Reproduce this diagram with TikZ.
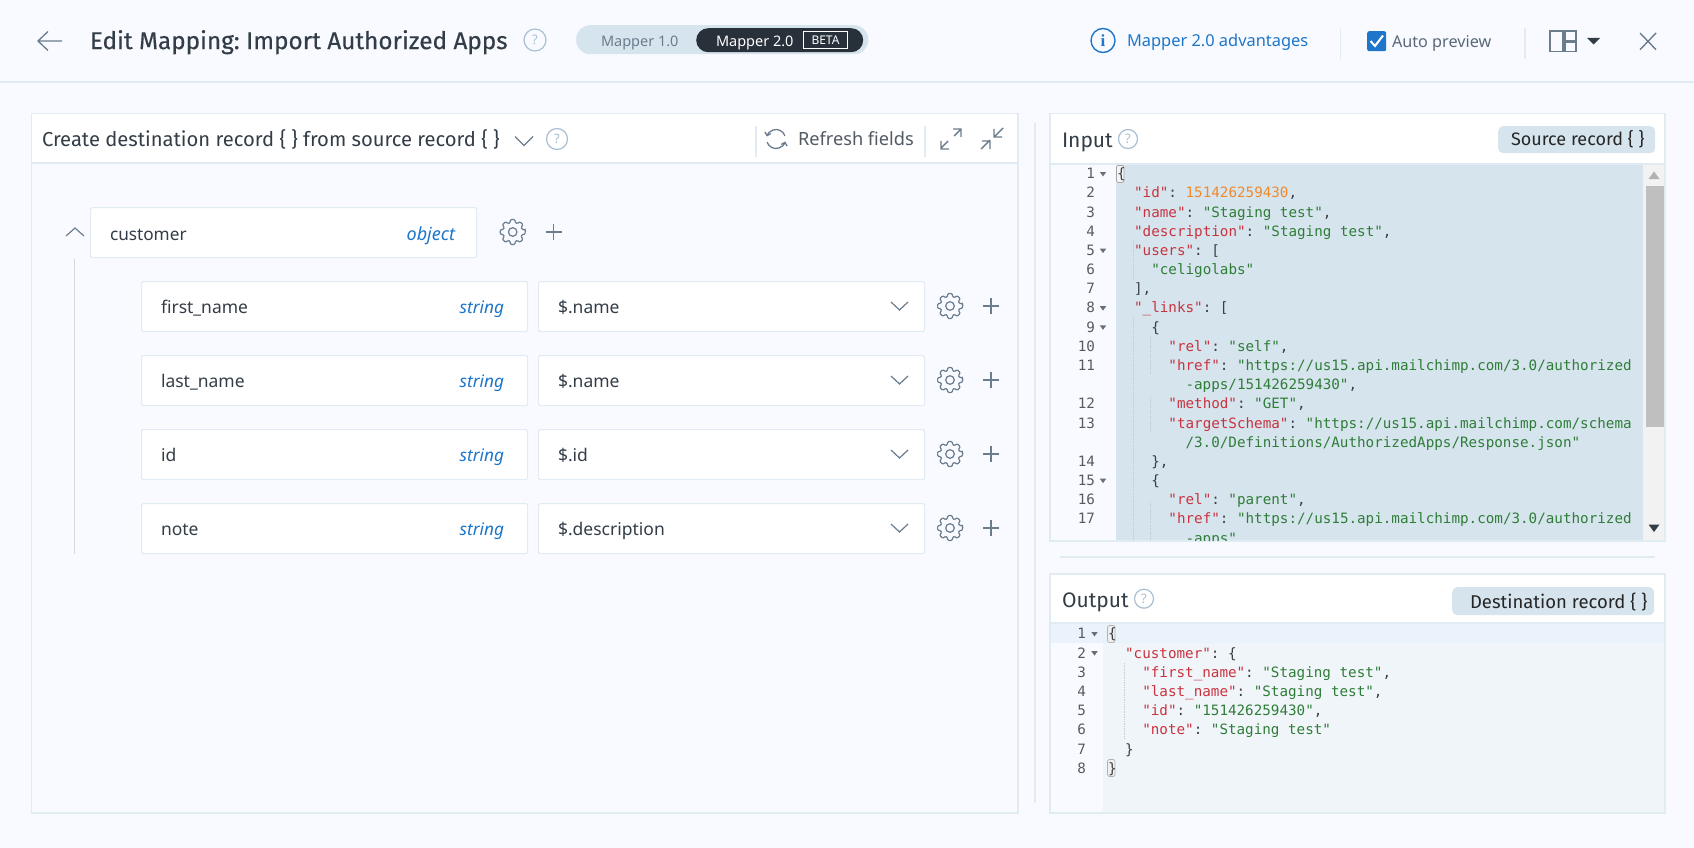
\documentclass[tikz,border=0pt]{standalone}
\usepackage{fontspec}
\usetikzlibrary{arrows.meta}
\setmainfont{Fira Sans}
\newfontfamily\titlefont[FakeBold=0.4]{Fira Sans}
\newfontfamily\uifont{Noto Sans}
\newfontfamily\codefont{DejaVu Sans Mono}
\newfontfamily\serifbold{Liberation Serif}
\AtBeginDocument{\frenchspacing}
\definecolor{pagebg}{HTML}{F8FAFF}
\definecolor{rule}{HTML}{E1EBF3}
\definecolor{ink}{HTML}{333D47}
\definecolor{icon}{HTML}{6B7C8C}
\definecolor{helpc}{HTML}{A9BFD3}
\definecolor{brand}{HTML}{1D76C9}
\definecolor{pillc}{HTML}{D6E4ED}
\definecolor{dark}{HTML}{28303A}
\definecolor{jkey}{HTML}{C9333F}
\definecolor{jstr}{HTML}{2F7D38}
\definecolor{jnum}{HTML}{F08A2E}
\definecolor{jpun}{HTML}{3A3F45}
\definecolor{codebg}{HTML}{D6E4ED}
\definecolor{outbg}{HTML}{F0F5F9}
\definecolor{outsel}{HTML}{EAF3FB}
\definecolor{numc}{HTML}{555B61}
\definecolor{foldc}{HTML}{6A6F75}
\definecolor{guide}{HTML}{C4CDD4}
\newcommand{\jk}[1]{\textcolor{jkey}{#1}}
\newcommand{\js}[1]{\textcolor{jstr}{#1}}
\newcommand{\jn}[1]{\textcolor{jnum}{#1}}
\tikzset{
  x=1pt,y=-1pt,
  lbl/.style={inner sep=0pt,outer sep=0pt,anchor=west,text height=0.72em,text depth=0.2em,text=ink},
  ui/.style={lbl,font=\uifont\fontsize{#1}{#1}\selectfont},
  fira/.style={lbl,font=\fontsize{#1}{#1}\selectfont},
  code/.style={lbl,text=jpun,font=\codefont\fontsize{14.25}{17}\selectfont},
  numl/.style={lbl,anchor=east,text=numc,font=\codefont\fontsize{14.25}{17}\selectfont},
  helpq/.style={circle,draw=helpc,line width=1.2pt,inner sep=0pt,minimum size=#1,text=helpc,font=\uifont\fontsize{13}{13}\selectfont},
  edge/.style={draw=rule,line width=1.2pt},
  fieldbox/.style={rectangle,rounded corners=1.5pt,draw=rule,line width=1.1pt,fill=white,anchor=north west,inner sep=0pt},
  iconl/.style={draw=icon,line width=1.2pt},
  pill/.style={rectangle,rounded corners=5pt,fill=pillc,anchor=north west,inner sep=0pt},
  gearicon/.pic={
    \draw[iconl,rounded corners=1pt] (-11:12.6)
      \foreach \a in {0,45,...,315}{ -- (\a-10:12.6) -- (\a+10:12.6) -- (\a+16:9.6) -- (\a+29:9.6) } -- cycle;
    \draw[iconl] (0,0) circle (4.3);
  },
  plusicon/.pic={
    \draw[iconl] (-8,0) -- (8,0) (0,-8) -- (0,8);
  },
  chevdown/.pic={
    \draw[iconl] (-8.5,-4) -- (0,4) -- (8.5,-4);
  },
}
\newcommand{\inl}[3]{\node[code] (inl#1) at ({1117+#2*8.57},{176.2+#1*19.17}) {#3};}
\newcommand{\inn}[2]{\node[numl] (inn#1) at (1095,{176.2+#1*19.17}) {#2};}
\newcommand{\outl}[3]{\node[code] (outl#1) at ({1108+#2*8.57},{636.2+#1*19.2}) {#3};}
\newcommand{\outn}[2]{\node[numl] (outn#1) at (1086,{636.2+#1*19.2}) {#2};}
\newcommand{\foldm}[2]{\fill[foldc,shift={(#1,#2)}] (-3.2,-2) -- (3.2,-2) -- (0,2.4) -- cycle;}
\begin{document}
\begin{tikzpicture}
\useasboundingbox (0,0) rectangle (1694,848);
\fill[pagebg] (0,0) rectangle (1694,848);
% ---- top bar
\draw[edge] (0,82) -- (1694,82);
\draw[icon,line width=1.3pt] (62,41) -- (38,41) (48,31.5) -- (38,41) -- (48,50.5);
\node[fira=24.3] (title) at (90,46.5) {\titlefont Edit Mapping: Import Authorized Apps};
\node[helpq=22pt] (helpTitle) at (535,40) {?};
\node[rectangle,rounded corners=14pt,fill=pillc,anchor=north west,inner sep=0pt,minimum width=292pt,minimum height=29pt] (ver) at (576,25) {};
\node[rectangle,rounded corners=12pt,fill=dark,anchor=north west,inner sep=0pt,minimum width=167pt,minimum height=24pt] (ver2) at (696,28) {};
\node[ui=14.5,text=icon] (m1) at (601,44) {Mapper 1.0};
\node[ui=14.5,text=white] (m2) at (716,44) {Mapper 2.0};
\node[rectangle,draw=white,line width=1pt,fill=dark,anchor=north west,inner sep=0pt,minimum width=44pt,minimum height=17pt,text=white,font=\uifont\bfseries\fontsize{12}{12}\selectfont] (beta) at (803,31) {BETA};
\node[circle,draw=brand,line width=1.4pt,minimum size=24pt,inner sep=0pt,text=brand,font=\serifbold\bfseries\fontsize{17}{17}\selectfont] (info) at (1103,40.5) {i};
\node[ui=16.4,text=brand] (adv) at (1127,44) {Mapper 2.0 advantages};
\draw[edge] (1340.5,28) -- (1340.5,59);
\node[rectangle,rounded corners=2pt,fill=brand,anchor=north west,inner sep=0pt,minimum width=19pt,minimum height=20pt] (chk) at (1367,31) {};
\draw[white,line width=2pt] (1370.5,41) -- (1375,46) -- (1383,35.5);
\node[ui=16.2,text=icon!70!ink] (auto) at (1392,45) {Auto preview};
\draw[edge] (1525,28) -- (1525,59);
\draw[iconl,line width=1.2pt] (1550,31) rectangle (1563,51.5) (1565,31) rectangle (1576,41) (1565,42.5) rectangle (1576,51.5);
\fill[ink] (1587,38) -- (1600,38) -- (1593.5,44.5) -- cycle;
\draw[iconl,line width=1.4pt] (1640,33) -- (1656,49.7) (1656,33) -- (1640,49.7);
% ---- left panel
\fill[white] (31.5,113.5) rectangle (1018,163);
\draw[edge] (31.5,113.5) rectangle (1018,813);
\draw[edge] (31.5,163) -- (1018,163);
\node[fira=20.2] (create) at (42,144) {Create destination record \{ \} from source record \{ \}};
\draw[iconl] (515,136.5) -- (524,145.5) -- (533,136.5);
\node[helpq=21pt] (helpCreate) at (557,139) {?};
\draw[edge] (756,126) -- (756,157);
\draw[iconl,line width=1.3pt,-{Straight Barb[length=3pt,width=6pt]}] ([shift={(-20:9.5)}]776,139) arc (-20:-165:9.5);
\draw[iconl,line width=1.3pt,-{Straight Barb[length=3pt,width=6pt]}] ([shift={(160:9.5)}]776,139) arc (160:15:9.5);
\node[ui=18.2,text=ink!85!white] (refresh) at (798,142.5) {Refresh fields};
\draw[edge] (925,126) -- (925,157);
\draw[iconl,line width=1.4pt] (941,148) -- (948,141) (941,141) -- (941,149) -- (949,149);
\draw[iconl,line width=1.4pt] (961,129) -- (954,136) (953,129) -- (961,129) -- (961,137);
\draw[iconl,line width=1.4pt] (1003,128) -- (994,137) (994,129) -- (994,137) -- (1002,137);
\draw[iconl,line width=1.4pt] (981,149) -- (990,140) (982,141) -- (990,141) -- (990,149);
\draw[edge] (1035,123) -- (1035,803);
% ---- mapping tree
\draw[iconl] (66,236) -- (75,228) -- (84,236);
\draw[draw=rule!85!icon,line width=1pt] (74,259) -- (74,554);
\node[fieldbox,minimum width=386pt,minimum height=50pt] (custBox) at (90,207) {};
\node[ui=17.2] (cust) at (110,237.5) {customer};
\node[ui=17.5,text=brand,font=\uifont\itshape\fontsize{18}{18}\selectfont,anchor=east] (custT) at (455,237.5) {object};
\pic at (512.7,232) {gearicon};
\pic at (553.5,232) {plusicon};
\foreach \i/\f/\v in {0/first\_name/\$.name,1/last\_name/\$.name,2/id/\$.id,3/note/\$.description}{
  \pgfmathsetmacro{\yy}{281+74*\i}
  \pgfmathsetmacro{\ym}{306+74*\i}
  \pgfmathsetmacro{\yt}{310.5+74*\i}
  \node[fieldbox,minimum width=386pt,minimum height=50pt] (src\i) at (141,\yy) {};
  \node[fieldbox,minimum width=386pt,minimum height=50pt] (dst\i) at (538,\yy) {};
  \node[ui=17.5] (srcT\i) at (161,\yt) {\f};
  \node[ui=17.5,text=brand,font=\uifont\itshape\fontsize{17.2}{17}\selectfont,anchor=east] (srcK\i) at (504,\yt) {string};
  \node[ui=17.5] (dstT\i) at (558,\yt) {\v};
  \pic at (899.5,\ym) {chevdown};
  \pic at (950,\ym) {gearicon};
  \pic at (991,\ym) {plusicon};
}
% ---- input panel
\fill[white] (1050,113.5) rectangle (1665,164);
\fill[codebg] (1116,164) rectangle (1643,541);
\fill[black!5] (1643,164) rectangle (1665,541);
\fill[black!25] (1645.5,186) rectangle (1663.5,427);
\fill[black!30] (1654,171.5) -- (1659.5,179) -- (1648.5,179) -- cycle;
\fill[ink] (1654,532) -- (1659.5,524.5) -- (1648.5,524.5) -- cycle;
\draw[edge] (1050,113.5) rectangle (1665,541);
\draw[edge] (1050,164) -- (1665,164);
\node[fira=21] (inputL) at (1062,144.4) {Input};
\node[helpq=19pt] (helpIn) at (1128,139) {?};
\node[pill,minimum width=157pt,minimum height=27pt] (srcPill) at (1498,126) {};
\node[fira=18,text=black!85] (srcTxt) at (1511,143) {Source record \{ \}};
\begin{scope}
\clip (1051,165) rectangle (1664,540);
\inn{0}{1}\inn{1}{2}\inn{2}{3}\inn{3}{4}\inn{4}{5}\inn{5}{6}\inn{6}{7}\inn{7}{8}\inn{8}{9}
\inn{9}{10}\inn{10}{11}\inn{12}{12}\inn{13}{13}\inn{15}{14}\inn{16}{15}\inn{17}{16}\inn{18}{17}
\foldm{1103}{174}\foldm{1103}{250.7}\foldm{1103}{308.2}\foldm{1103}{327.4}\foldm{1103}{480.7}
\draw[guide,densely dotted,line width=.7pt] (1133,240) -- (1133,280) (1133,317) -- (1133,540) (1150,336) -- (1150,375) (1150,397) -- (1150,432) (1150,502) -- (1150,540);
\draw[black!35,line width=.7pt,rounded corners=2pt,fill=black!4] (1116.5,165.5) rectangle (1124,182.5);
\inl{0}{0}{\{}
\inl{1}{2}{\jk{"id"}: \jn{151426259430},}
\inl{2}{2}{\jk{"name"}: \js{"Staging test"},}
\inl{3}{2}{\jk{"description"}: \js{"Staging test"},}
\inl{4}{2}{\jk{"users"}: [}
\inl{5}{4}{\js{"celigolabs"}}
\inl{6}{2}{],}
\inl{7}{2}{\jk{"\_links"}: [}
\inl{8}{4}{\{}
\inl{9}{6}{\jk{"rel"}: \js{"self"},}
\inl{10}{6}{\jk{"href"}: \js{"https://us15.api.mailchimp.com/3.0/authorized}}
\inl{11}{8}{\js{-apps/151426259430"},}
\inl{12}{6}{\jk{"method"}: \js{"GET"},}
\inl{13}{6}{\jk{"targetSchema"}: \js{"https://us15.api.mailchimp.com/schema}}
\inl{14}{8}{\js{/3.0/Definitions/AuthorizedApps/Response.json"}}
\inl{15}{4}{\},}
\inl{16}{4}{\{}
\inl{17}{6}{\jk{"rel"}: \js{"parent"},}
\inl{18}{6}{\jk{"href"}: \js{"https://us15.api.mailchimp.com/3.0/authorized}}
\inl{19}{8}{\js{-apps"}}
\end{scope}
\draw[edge] (1060,557) -- (1655,557);
% ---- output panel
\fill[white] (1050,574) rectangle (1665,623);
\fill[outbg] (1103,623) rectangle (1665,813);
\fill[outsel] (1051,623.5) rectangle (1665,643);
\draw[edge] (1050,574) rectangle (1665,813);
\draw[edge] (1050,623) -- (1665,623);
\node[fira=21] (outputL) at (1062,604.4) {Output};
\node[helpq=19pt] (helpOut) at (1144,598.7) {?};
\node[pill,minimum width=202pt,minimum height=28pt] (dstPill) at (1452,587) {};
\node[fira=18.5,text=black!85] (dstTxt) at (1470,606) {Destination record \{ \}};
\outn{0}{1}\outn{1}{2}\outn{2}{3}\outn{3}{4}\outn{4}{5}\outn{5}{6}\outn{6}{7}\outn{7}{8}
\foldm{1094.5}{634}\foldm{1094.5}{653.2}
\draw[guide,densely dotted,line width=.7pt] (1124,663) -- (1124,738);
\draw[black!30,line width=.7pt,rounded corners=2pt,fill=black!6] (1107.5,625.5) rectangle (1115,642.5) (1107.5,759.5) rectangle (1115,776.5);
\outl{0}{0}{\{}
\outl{1}{2}{\jk{"customer"}: \{}
\outl{2}{4}{\jk{"first\_name"}: \js{"Staging test"},}
\outl{3}{4}{\jk{"last\_name"}: \js{"Staging test"},}
\outl{4}{4}{\jk{"id"}: \js{"151426259430"},}
\outl{5}{4}{\jk{"note"}: \js{"Staging test"}}
\outl{6}{2}{\}}
\outl{7}{0}{\}}
\end{tikzpicture}
\end{document}
